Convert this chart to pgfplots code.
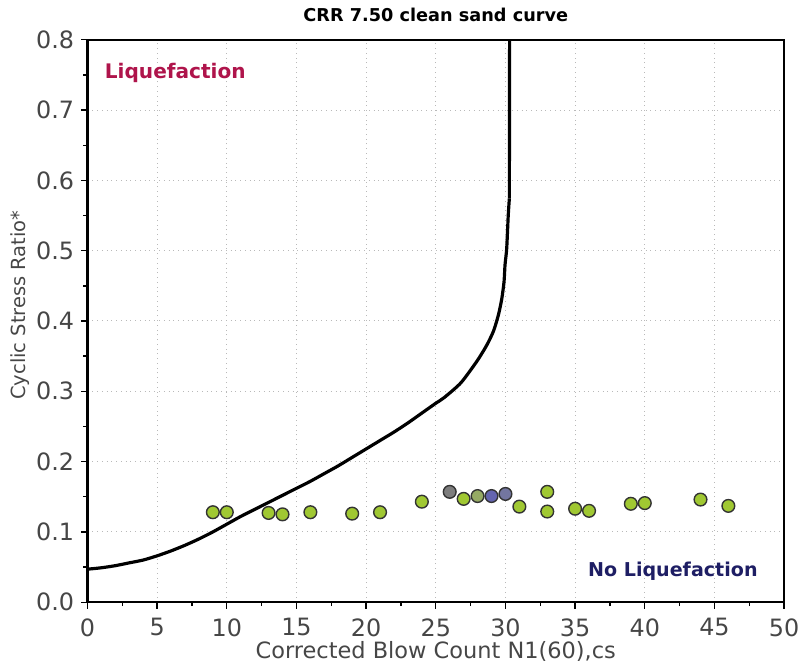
\documentclass[border=0pt]{standalone}
\usepackage{fontspec}
\setmainfont{DejaVu Sans}
\usepackage{pgfplots}
\pgfplotsset{compat=1.18}
\usetikzlibrary{calc}

\definecolor{ptgreen}{RGB}{160,200,50}
\definecolor{ptgray}{RGB}{125,125,125}
\definecolor{ptmix}{RGB}{150,170,100}
\definecolor{ptblue}{RGB}{100,100,175}
\definecolor{ptbluegray}{RGB}{115,118,160}
\definecolor{liqred}{RGB}{175,20,75}
\definecolor{liqblue}{RGB}{30,30,100}
\definecolor{labgray}{RGB}{70,70,70}

\begin{document}
\begin{tikzpicture}
\begin{axis}[
  scale only axis,
  width=350.5pt, height=283pt,
  xmin=0, xmax=50, ymin=0, ymax=0.8,
  xtick={0,5,...,50},
  ytick={0,0.1,...,0.8},
  minor x tick num=1,
  minor y tick num=1,
  tick align=outside,
  xtick pos=bottom, ytick pos=left,
  major tick length=3.2pt, minor tick length=2pt,
  tick style={black, line width=0.7pt},
  axis line style={black, line width=1.2pt},
  grid=major,
  major grid style={gray!55, dotted, line width=0.5pt},
  /pgf/number format/assume math mode=true,
  yticklabel style={/pgf/number format/.cd, fixed, fixed zerofill, precision=1},
  ticklabel style={font=\fontsize{12}{14}\selectfont, text=labgray},
  xticklabel style={yshift=-1.5pt},
  clip mode=individual,
]
\addplot[black, line width=1.6pt, smooth, tension=0.4] coordinates {
 (0,0.047) (1,0.049) (2,0.052) (3,0.056) (4,0.060) (5,0.066) (6,0.073)
 (7,0.081) (8,0.090) (9,0.100) (10,0.111) (11,0.122) (12,0.132) (13,0.142)
 (14,0.152) (15,0.162) (16,0.172) (17,0.183) (18,0.194) (19,0.206)
 (20,0.218) (21,0.230) (22,0.242) (23,0.255) (24,0.269) (25,0.283)
 (25.6,0.291) (26.8,0.312) (27.96,0.343) (28.67,0.366) (29.15,0.386)
 (29.5,0.409) (29.74,0.432) (29.9,0.456) (29.97,0.48) (30.09,0.503)
 (30.2,0.55) (30.28,0.574)
};
\addplot[black, line width=1.6pt] coordinates {(30.28,0.574) (30.3,0.82)};

\addplot[only marks, mark=*, mark size=3.2pt,
  mark options={fill=ptgreen, draw=black!80, line width=0.7pt}] coordinates {
 (9,0.128) (10,0.128) (13,0.127) (14,0.125) (16,0.128) (19,0.126) (21,0.128)
 (24,0.143) (27,0.147) (31,0.136) (33,0.157) (33,0.129) (35,0.133)
 (36,0.130) (39,0.140) (40,0.141) (44,0.146) (46,0.137)
};
\addplot[only marks, mark=*, mark size=3.2pt,
  mark options={fill=ptgray, draw=black!80, line width=0.7pt}] coordinates {(26,0.157)};
\addplot[only marks, mark=*, mark size=3.2pt,
  mark options={fill=ptmix, draw=black!80, line width=0.7pt}] coordinates {(28,0.151)};
\addplot[only marks, mark=*, mark size=3.2pt,
  mark options={fill=ptblue, draw=black!80, line width=0.7pt}] coordinates {(29,0.151)};
\addplot[only marks, mark=*, mark size=3.2pt,
  mark options={fill=ptbluegray, draw=black!80, line width=0.7pt}] coordinates {(30,0.154)};

\node[anchor=west, text=liqred, font=\bfseries\fontsize{10.1}{12}\selectfont]
  at (axis cs:0.75,0.753) {Liquefaction};
\node[anchor=east, text=liqblue, font=\bfseries\fontsize{9.6}{12}\selectfont]
  at (axis cs:48.6,0.044) {No Liquefaction};
\end{axis}
\node[font=\bfseries\fontsize{8.9}{11}\selectfont]
  at ($(current axis.north)+(0,12.5pt)$) {CRR 7.50 clean sand curve};
\node[font=\fontsize{11.3}{13}\selectfont, text=labgray]
  at ($(current axis.south)+(0,-25pt)$) {Corrected Blow Count N1(60),cs};
\node[rotate=90, font=\fontsize{9.8}{12}\selectfont, text=labgray]
  at ($(current axis.west)+(-34pt,8pt)$) {Cyclic Stress Ratio*};
\pgfresetboundingbox
\path[use as bounding box] ($(current axis.south west)+(-44pt,-30pt)$)
  rectangle ($(current axis.north east)+(8pt,20pt)$);
\end{tikzpicture}
\end{document}
